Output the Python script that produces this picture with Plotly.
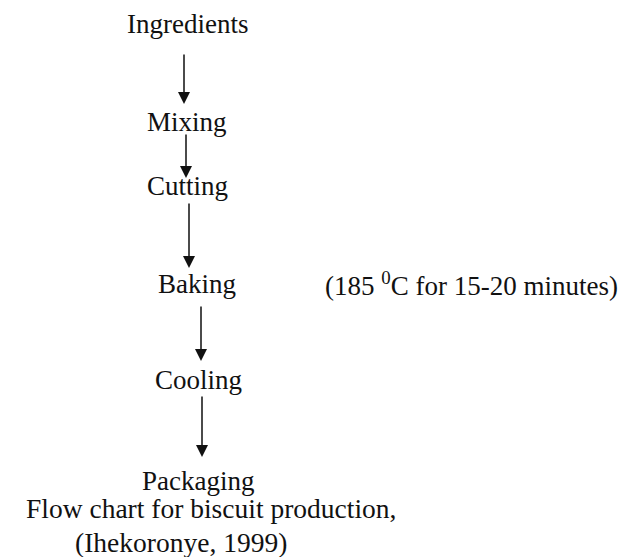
import plotly.graph_objects as go

# flow steps (top to bottom)
steps = ["Ingredients", "Mixing", "Cutting", "Baking", "Cooling", "Packaging"]
step_x = [187, 187, 187, 197, 198, 198]
step_y = [24, 122, 186, 284, 380, 481]

# arrows between steps: start / tip
arrow_x = [184, 186, 189, 201, 202]
arrow_y0 = [53, 133, 202, 305, 395]
arrow_y1 = [104, 178, 268, 361, 457]

note = "(185 <sup>0</sup>C for 15-20 minutes)"
caption = ["Flow chart for biscuit production,", "(Ihekoronye, 1999)"]
caption_x = [211, 181]
caption_y = [508, 542]

# page body has an 8px margin, shift the data window to compensate
OFF = 8

FONT = dict(family="Liberation Serif, Times New Roman, serif", size=27, color="#111111")
CAP_FONT = dict(family="Liberation Serif, Times New Roman, serif", size=27.5, color="#111111")

fig = go.Figure()
fig.add_trace(go.Scatter(x=[0, 636], y=[0, 557], mode="markers",
                         marker=dict(opacity=0), hoverinfo="skip", showlegend=False))

for s, x, y in zip(steps, step_x, step_y):
    fig.add_annotation(x=x, y=y, text=s, showarrow=False, font=FONT,
                       xanchor="center", yanchor="middle")

for x, y0, y1 in zip(arrow_x, arrow_y0, arrow_y1):
    fig.add_annotation(x=x, y=y1, ax=x, ay=y0, axref="x", ayref="y", text="",
                       showarrow=True, arrowhead=2, arrowsize=1.6, arrowwidth=1.5,
                       arrowcolor="#111111")

fig.add_annotation(x=471, y=284, text=note, showarrow=False, font=FONT,
                   xanchor="center", yanchor="middle")

for t, x, y in zip(caption, caption_x, caption_y):
    fig.add_annotation(x=x, y=y, text=t, showarrow=False, font=CAP_FONT,
                       xanchor="center", yanchor="middle")

fig.update_xaxes(range=[OFF, 636 + OFF], visible=False, fixedrange=True)
fig.update_yaxes(range=[557 + OFF, OFF], visible=False, fixedrange=True)
fig.update_layout(width=636, height=557, margin=dict(l=0, r=0, t=0, b=0),
                  plot_bgcolor="white", paper_bgcolor="white")

fig.write_html("out.html")
